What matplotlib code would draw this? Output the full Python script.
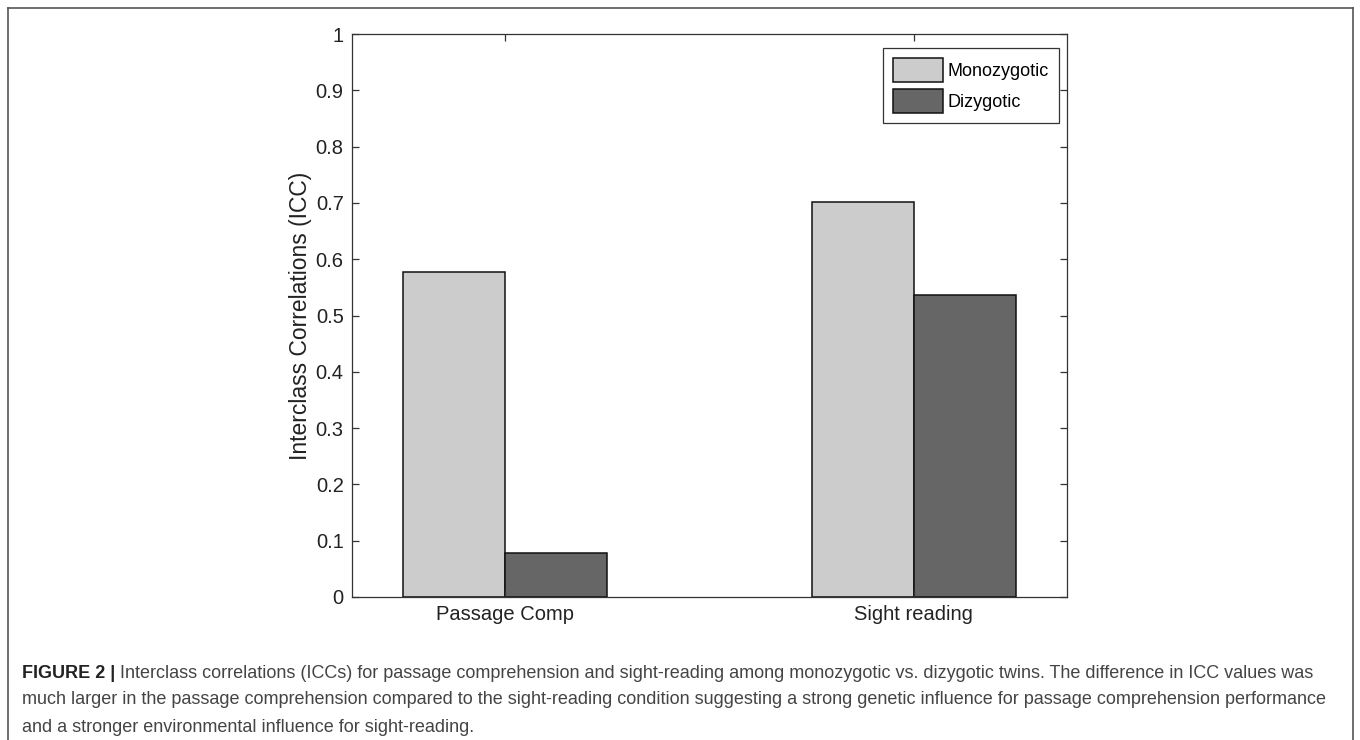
import numpy as np
from matplotlib import pyplot as plt
from matplotlib.lines import Line2D

plt.rcParams['font.family'] = ['Liberation Sans', 'DejaVu Sans']

# data
categories = ["Passage Comp", "Sight reading"]
series_names = ["Monozygotic", "Dizygotic"]
monozygotic = [0.578, 0.702]
dizygotic = [0.079, 0.537]
y_ticks = [0, 0.1, 0.2, 0.3, 0.4, 0.5, 0.6, 0.7, 0.8, 0.9, 1]
y_tick_labels = ["0", "0.1", "0.2", "0.3", "0.4", "0.5", "0.6", "0.7", "0.8", "0.9", "1"]

caption_bold = "FIGURE 2 | "
caption_lines = [
    "Interclass correlations (ICCs) for passage comprehension and sight-reading among monozygotic vs. dizygotic twins. The difference in ICC values was",
    "much larger in the passage comprehension compared to the sight-reading condition suggesting a strong genetic influence for passage comprehension performance",
    "and a stronger environmental influence for sight-reading.",
]

W, H = 1360, 740
fig = plt.figure(figsize=(13.6, 7.4), dpi=100)
ax = fig.add_axes([352 / W, 1 - 597 / H, (1067 - 352) / W, (597 - 34) / H])

x = np.arange(1, len(categories) + 1)
width = 0.25
edge = dict(edgecolor="#111111", linewidth=1.1)
ax.bar(x - width / 2, monozygotic, width, color="#cccccc", label=series_names[0], **edge)
ax.bar(x + width / 2, dizygotic, width, color="#666666", label=series_names[1], **edge)

ax.set_xlim(0.625, 2.375)
ax.set_ylim(0, 1)
ax.set_xticks(x)
ax.set_xticklabels(categories, fontsize=14.5, color="#222222")
ax.set_yticks(y_ticks)
ax.set_yticklabels(y_tick_labels, fontsize=14.5, color="#222222")
ax.tick_params(direction="in", length=5, width=0.9, color="#333333",
               top=True, right=True, pad=6)
for s in ax.spines.values():
    s.set_color("#333333")
    s.set_linewidth(0.9)
ax.set_ylabel("Interclass Correlations (ICC)", fontsize=16.5, color="#222222", labelpad=2.5)

leg_fs = 13
px = leg_fs * 100 / 72
leg = ax.legend(loc="upper right", bbox_to_anchor=(1059 / W, 1 - 48 / H),
                bbox_transform=fig.transFigure, fontsize=leg_fs,
                fancybox=False, framealpha=1, edgecolor="#333333",
                handlelength=50 / px, handleheight=30 / px,
                handletextpad=5 / px, labelspacing=7 / px,
                borderpad=0.55, borderaxespad=0)
leg.get_frame().set_linewidth(0.9)

# outer frame (open at the bottom)
frame_kw = dict(color="#555555", linewidth=1.2, transform=fig.transFigure)
fig.add_artist(Line2D([8 / W, 1353 / W], [1 - 8 / H, 1 - 8 / H], **frame_kw))
fig.add_artist(Line2D([8 / W, 8 / W], [1 - 8 / H, 0], **frame_kw))
fig.add_artist(Line2D([1353 / W, 1353 / W], [1 - 8 / H, 0], **frame_kw))

# caption
cap_fs = 13
y0 = 1 - 673 / H
t = fig.text(22 / W, y0, caption_bold, fontsize=cap_fs, fontweight="bold",
             color="#222222", va="center")
fig.canvas.draw()
bb = t.get_window_extent()
fig.text(bb.x1 / W, y0, caption_lines[0], fontsize=cap_fs, color="#444444", va="center")
fig.text(22 / W, 1 - 700 / H, caption_lines[1], fontsize=cap_fs, color="#444444", va="center")
fig.text(22 / W, 1 - 727 / H, caption_lines[2], fontsize=cap_fs, color="#444444", va="center")

fig.savefig("out.png", dpi=100)
